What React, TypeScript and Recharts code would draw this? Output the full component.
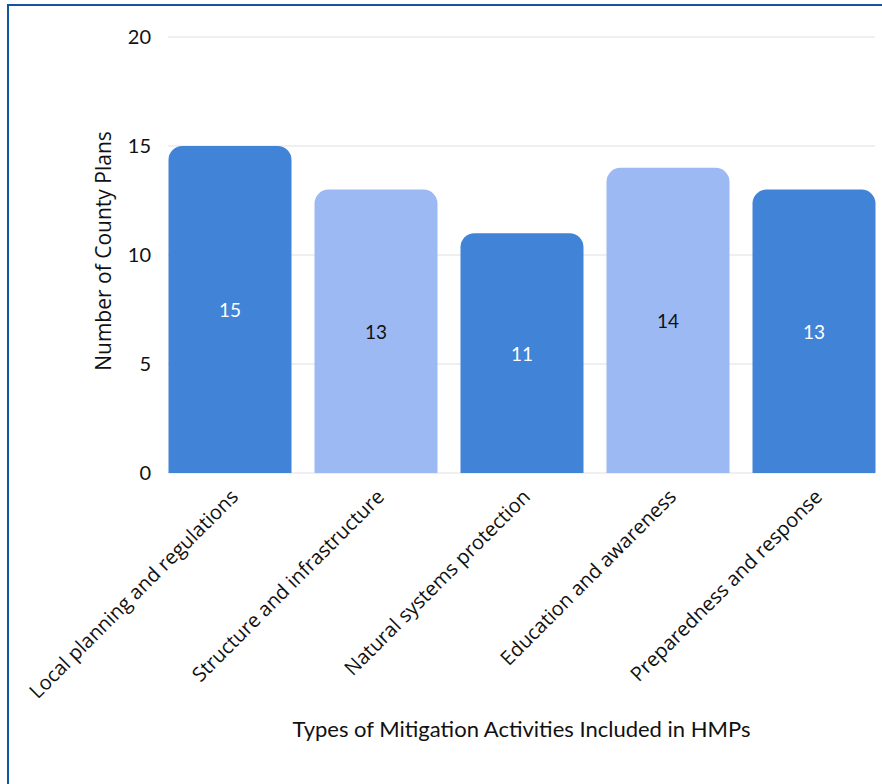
import React from "react";
import { BarChart, Bar, XAxis, YAxis, CartesianGrid, Cell, LabelList } from "recharts";

const activityTypes = [
  "Local planning and regulations",
  "Structure and infrastructure",
  "Natural systems protection",
  "Education and awareness",
  "Preparedness and response",
];
const countyPlanCounts = [15, 13, 11, 14, 13];
const yTicks = [0, 5, 10, 15, 20];

const DARK = "#4183d7";
const LIGHT = "#9cb9f4";
const LATO = "Lato, 'Noto Sans', sans-serif";
const SANS = "'Open Sans', 'Noto Sans', sans-serif";

const data = activityTypes.map((name, i) => ({ name, count: countyPlanCounts[i] }));

function CategoryTick({ x, y, payload }: { x?: number; y?: number; payload?: { value: string } }) {
  return (
    <g transform={`translate(${(x ?? 0) + 10},${(y ?? 0) + 25}) rotate(-45)`}>
      <text textAnchor="end" fontFamily={SANS} fontSize={20} fill="#111">
        {payload?.value}
      </text>
    </g>
  );
}

function YTitle({ viewBox }: { viewBox?: { x: number; y: number; width: number; height: number } }) {
  if (!viewBox) return null;
  const cx = viewBox.x + 15;
  const cy = viewBox.y + viewBox.height / 2 - 4;
  return (
    <text
      x={cx}
      y={cy}
      transform={`rotate(-90 ${cx} ${cy})`}
      textAnchor="middle"
      dominantBaseline="central"
      fontFamily={SANS}
      fontSize={21}
      fill="#111"
    >
      Number of County Plans
    </text>
  );
}

function XTitle({ viewBox }: { viewBox?: { x: number; y: number; width: number; height: number } }) {
  if (!viewBox) return null;
  return (
    <text
      x={viewBox.x + viewBox.width / 2}
      y={viewBox.y + 264}
      textAnchor="middle"
      fontFamily={LATO}
      fontSize={22}
      fill="#111"
    >
      Types of Mitigation Activities Included in HMPs
    </text>
  );
}

function ValueLabel(props: any) {
  const { x, y, width, height, value, index } = props;
  return (
    <text
      x={x + width / 2}
      y={y + height / 2}
      textAnchor="middle"
      dominantBaseline="central"
      fontFamily={LATO}
      fontSize={19}
      fill={index % 2 === 0 ? "#ffffff" : "#111111"}
    >
      {value}
    </text>
  );
}

export default function App() {
  return (
    <div style={{ position: "absolute", left: 0, top: 0, width: 882, height: 784, background: "#fff" }}>
      <div
        style={{
          position: "absolute",
          left: 7,
          top: 4,
          right: 0,
          bottom: 0,
          borderLeft: "2px solid #11559b",
          borderTop: "2px solid #11559b",
        }}
      />
      <BarChart
        width={882}
        height={784}
        data={data}
        margin={{ top: 37, right: 7, bottom: 91, left: 88 }}
        barSize={123}
        style={{ position: "absolute", left: 0, top: 0 }}
      >
        <CartesianGrid vertical={false} stroke="#e0e0e0" strokeWidth={1} />
        <XAxis
          dataKey="name"
          axisLine={false}
          tickLine={false}
          tickSize={0}
          tickMargin={0}
          interval={0}
          height={220}
          padding={{ left: -11.5, right: -11.5 }}
          tick={<CategoryTick />}
          label={<XTitle />}
        />
        <YAxis
          domain={[0, 20]}
          ticks={yTicks}
          width={80}
          axisLine={false}
          tickLine={false}
          tickSize={0}
          tickMargin={17}
          tick={{ fontFamily: LATO, fontSize: 20, fill: "#111" }}
          label={<YTitle />}
        />
        <Bar dataKey="count" radius={[14, 14, 0, 0]} isAnimationActive={false}>
          {data.map((d, i) => (
            <Cell key={d.name} fill={i % 2 === 0 ? DARK : LIGHT} />
          ))}
          <LabelList dataKey="count" content={<ValueLabel />} />
        </Bar>
      </BarChart>
    </div>
  );
}
